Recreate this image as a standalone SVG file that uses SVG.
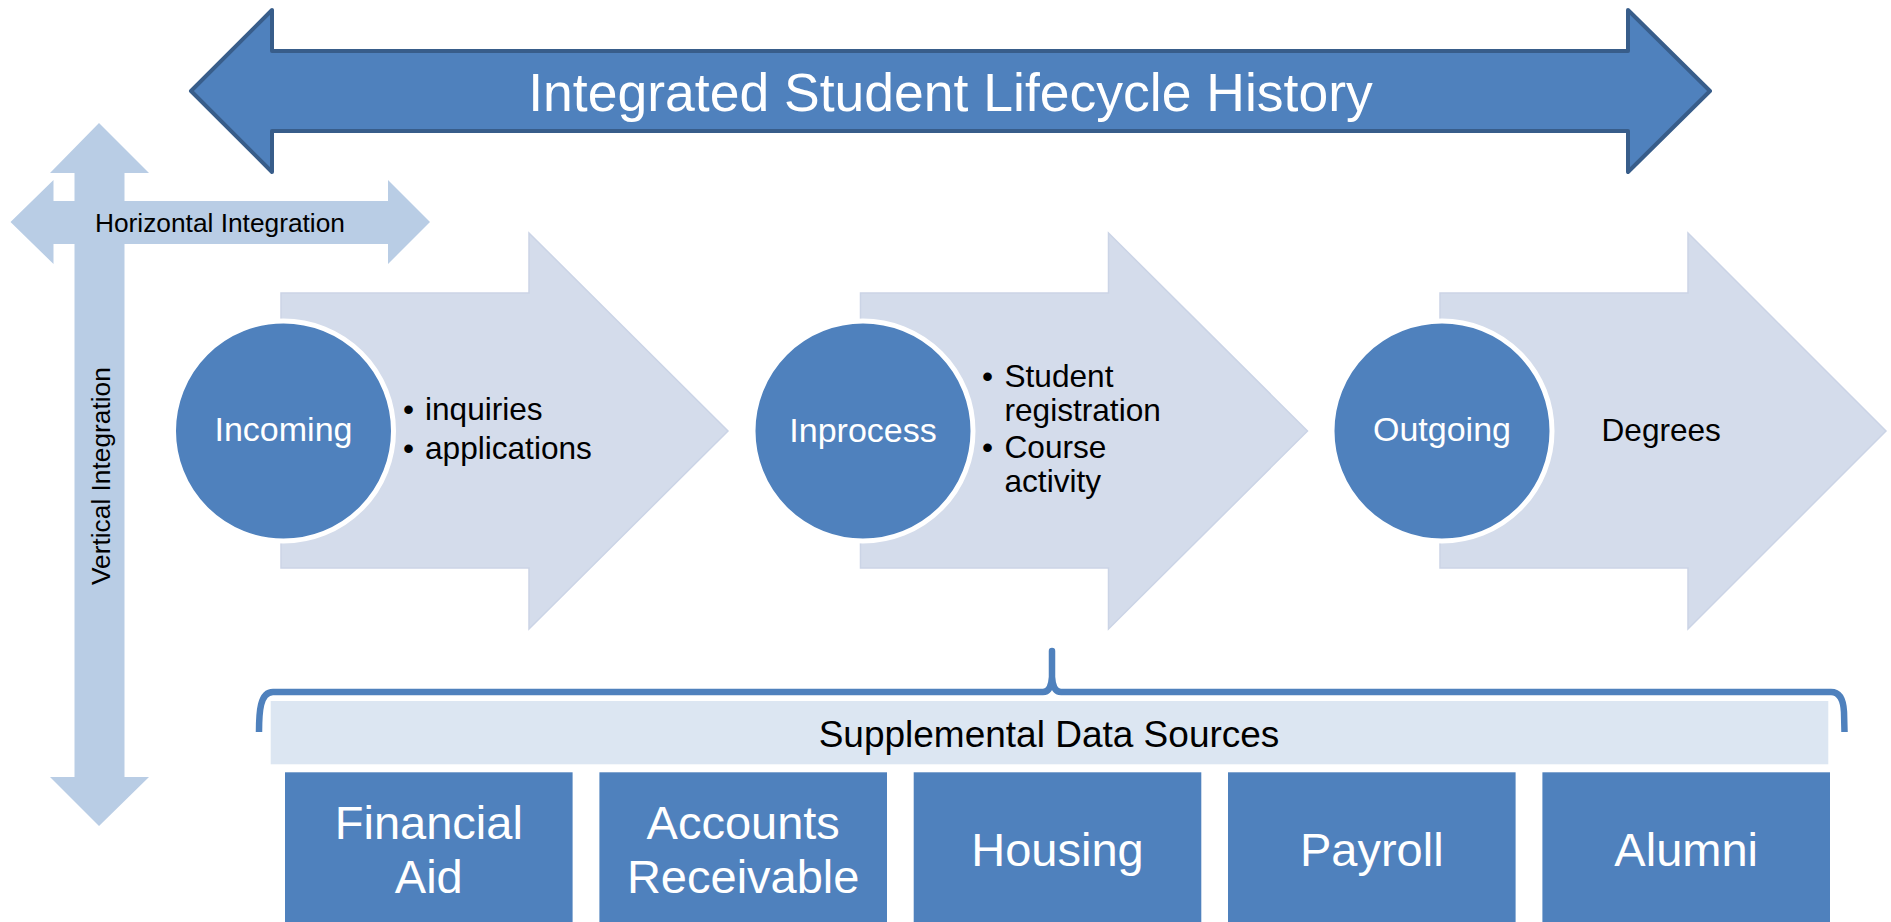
<svg xmlns="http://www.w3.org/2000/svg" width="1891" height="922" viewBox="0 0 1891 922">
<style>
.lt{fill:#B9CDE5}
.big{fill:#D4DCEB;stroke:#CBD4E6;stroke-width:1.5}
.circ{fill:#4F81BD;stroke:#FFFFFF;stroke-width:5}
.box{fill:#4F81BD}
.t{font-family:"Liberation Sans",Arial,sans-serif}
.w{fill:#FFFFFF}
.k{fill:#000000}
.lbl{font-size:34px;text-anchor:middle}
.body{font-size:31.6px}
.src{font-size:47px;text-anchor:middle}
</style>
<rect width="1891" height="922" fill="#FFFFFF"/>
<g id="lifecycle-arrow">
<polygon points="191,91 272,10 272,51 1628,51 1628,10 1710,91 1628,172 1628,131 272,131 272,172" fill="#4F81BD" stroke="#385D8A" stroke-width="4" stroke-linejoin="round"/>
<text class="t w" x="950.5" y="111" font-size="53.5" text-anchor="middle">Integrated Student Lifecycle History</text>
</g>
<g id="vertical-integration">
<polygon class="lt" points="99,123 149,173 124.5,173 124.5,777 149,777 99,826 50,777 74.5,777 74.5,173 50,173"/>
<text class="t k" transform="translate(110,585) rotate(-90)" font-size="26.3">Vertical Integration</text>
</g>
<g id="horizontal-integration">
<polygon class="lt" points="10.5,222 53.5,180 53.5,201 388,201 388,180 430,222 388,264 388,244 53.5,244 53.5,264"/>
<text class="t k" x="95" y="231.5" font-size="26.3">Horizontal Integration</text>
</g>
<g id="incoming">
<polygon class="big" points="281,293 529,293 529,233 728,431 529,629 529,568 281,568"/>
<circle class="circ" cx="283.5" cy="431" r="110"/>
<text class="t w lbl" x="283.5" y="441">Incoming</text>
<text class="t k body"><tspan x="403" y="420">•</tspan><tspan x="425" y="420">inquiries</tspan><tspan x="403" y="459">•</tspan><tspan x="425" y="459">applications</tspan></text>
</g>
<g id="inprocess">
<polygon class="big" points="860.5,293 1108.5,293 1108.5,233 1307.5,431 1108.5,629 1108.5,568 860.5,568"/>
<circle class="circ" cx="863" cy="431" r="110"/>
<text class="t w lbl" x="863" y="441.5">Inprocess</text>
<text class="t k body"><tspan x="982" y="387">•</tspan><tspan x="1004.5" y="387">Student</tspan><tspan x="1004.5" y="421">registration</tspan><tspan x="982" y="458">•</tspan><tspan x="1004.5" y="458">Course</tspan><tspan x="1004.5" y="492">activity</tspan></text>
</g>
<g id="outgoing">
<polygon class="big" points="1440,293 1688,293 1688,233 1886,431 1688,629 1688,568 1440,568"/>
<circle class="circ" cx="1442" cy="431" r="110"/>
<text class="t w lbl" x="1442" y="441">Outgoing</text>
<text class="t k body" x="1601.5" y="440.5">Degrees</text>
</g>
<g id="connectors">
<path d="M259,732 C259,712 260,692 273,692 L1043,692 Q1051,692 1052,677 L1052,651 L1052,677 Q1053,692 1061,692 L1831,692 Q1843,692 1844,712 L1844.5,732" fill="none" stroke="#4F81BD" stroke-width="6.5" stroke-linejoin="round"/>
</g>
<g id="supplemental">
<rect x="270.7" y="701" width="1557.6" height="63.3" fill="#DCE6F2"/>
<text class="t k" x="1049" y="747" font-size="37" text-anchor="middle">Supplemental Data Sources</text>
</g>
<g id="financial-aid">
<rect class="box" x="285" y="772.3" width="287.6" height="152"/>
<text class="t w src" x="428.8" y="839">Financial</text>
<text class="t w src" x="428.8" y="893">Aid</text>
</g>
<g id="accounts-receivable">
<rect class="box" x="599.4" y="772.3" width="287.6" height="152"/>
<text class="t w src" x="743.2" y="839">Accounts</text>
<text class="t w src" x="743.2" y="893">Receivable</text>
</g>
<g id="housing">
<rect class="box" x="913.7" y="772.3" width="287.6" height="152"/>
<text class="t w src" x="1057.5" y="865.5">Housing</text>
</g>
<g id="payroll">
<rect class="box" x="1228" y="772.3" width="287.6" height="152"/>
<text class="t w src" x="1371.8" y="865.5">Payroll</text>
</g>
<g id="alumni">
<rect class="box" x="1542.4" y="772.3" width="287.6" height="152"/>
<text class="t w src" x="1686.2" y="865.5">Alumni</text>
</g>
</svg>
